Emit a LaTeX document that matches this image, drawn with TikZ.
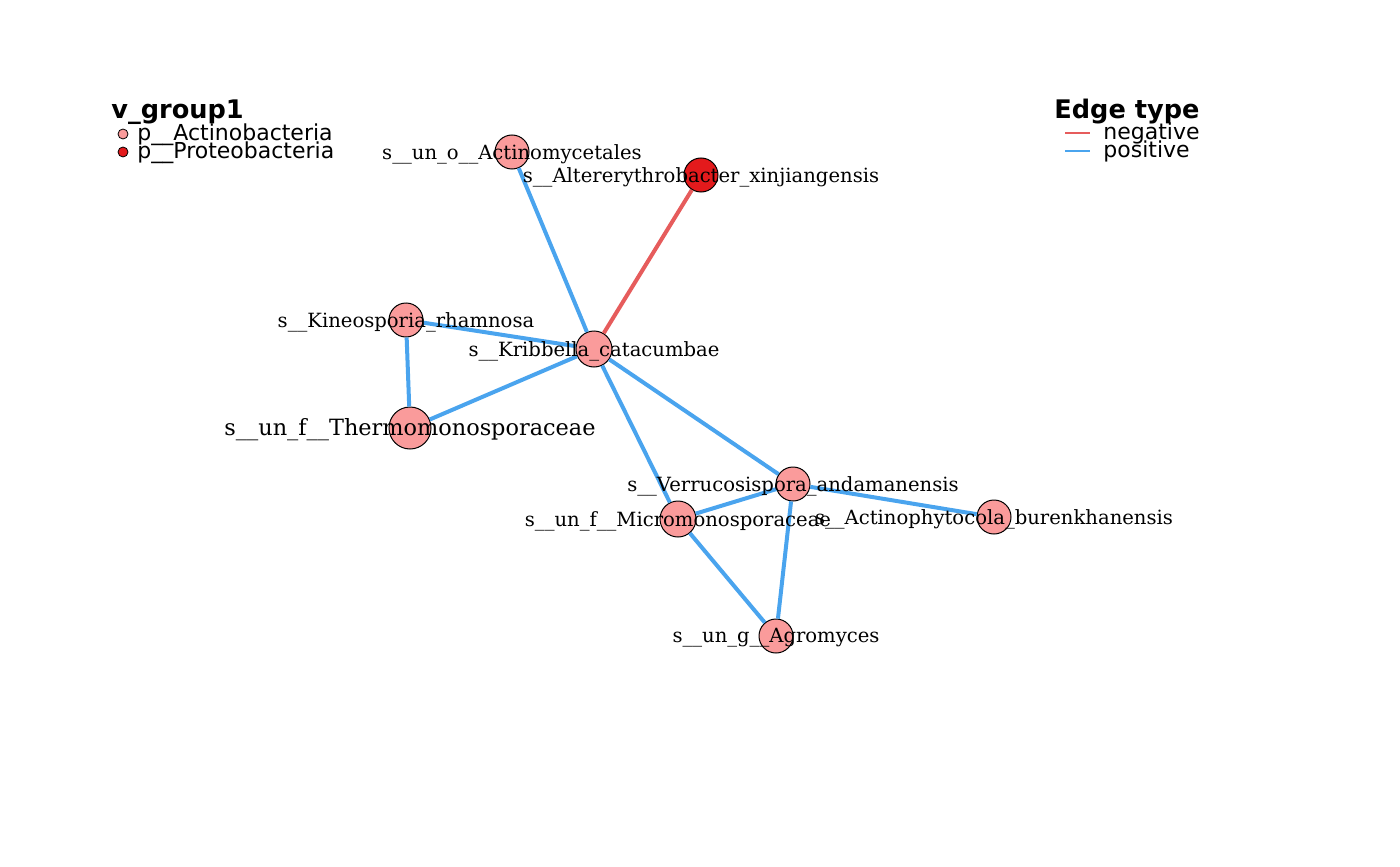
\documentclass[tikz,border=0pt]{standalone}
\usepackage{fontspec}
\setmainfont{DejaVu Serif}
\newfontfamily\legendfont{DejaVu Sans}
\definecolor{posblue}{RGB}{74,164,238}
\definecolor{negred}{RGB}{230,92,92}
\definecolor{actino}{RGB}{250,155,155}
\definecolor{proteo}{RGB}{227,26,28}
\tikzstyle{vertex} = [circle, draw=black, line width=0.5pt, inner sep=0pt, minimum size=17pt, fill=actino]
\tikzstyle{vlabel} = [inner sep=0pt, text=black, yshift=-1pt, font=\fontsize{9.8}{9.8}\selectfont]
\tikzstyle{posedge} = [line width=2pt, draw=posblue]
\tikzstyle{negedge} = [line width=2pt, draw=negred]
\tikzstyle{legtitle} = [anchor=base west, inner sep=0pt, font=\legendfont\bfseries\fontsize{12.8}{12.8}\selectfont]
\tikzstyle{legitem} = [anchor=base west, inner sep=0pt, font=\legendfont\fontsize{11}{11}\selectfont]
\tikzstyle{legdot} = [circle, draw=black, line width=0.4pt, inner sep=0pt, minimum size=5pt]

\begin{document}
\begin{tikzpicture}[x=0.5pt, y=-0.5pt]

\useasboundingbox (0,0) rectangle (1400,866);

% vertices
\node (actinomyc) [vertex] at (512,152) {};
\node (alterery) [vertex, fill=proteo] at (701,175) {};
\node (kineo) [vertex] at (406,320) {};
\node (kribbella) [vertex, minimum size=18pt] at (594,349) {};
\node (thermo) [vertex, minimum size=21pt] at (410,428) {};
\node (verruco) [vertex] at (793,484) {};
\node (micromono) [vertex, minimum size=18pt] at (678,519) {};
\node (actinophy) [vertex] at (994,517) {};
\node (agromyces) [vertex] at (776,636) {};

% edges
\draw [posedge] (actinomyc) -- (kribbella);
\draw [negedge] (alterery) -- (kribbella);
\draw [posedge] (kineo) -- (kribbella);
\draw [posedge] (kineo) -- (thermo);
\draw [posedge] (thermo) -- (kribbella);
\draw [posedge] (kribbella) -- (micromono);
\draw [posedge] (kribbella) -- (verruco);
\draw [posedge] (verruco) -- (micromono);
\draw [posedge] (verruco) -- (actinophy);
\draw [posedge] (verruco) -- (agromyces);
\draw [posedge] (micromono) -- (agromyces);

% labels
\node (lactinomyc) [vlabel] at (actinomyc.center) {s\_\_un\_o\_\_Actinomycetales};
\node (lalterery) [vlabel] at (alterery.center) {s\_\_Altererythrobacter\_xinjiangensis};
\node (lkineo) [vlabel] at (kineo.center) {s\_\_Kineosporia\_rhamnosa};
\node (lkribbella) [vlabel] at (kribbella.center) {s\_\_Kribbella\_catacumbae};
\node (lthermo) [vlabel, font=\fontsize{11.2}{11.2}\selectfont] at (thermo.center) {s\_\_un\_f\_\_Thermomonosporaceae};
\node (lverruco) [vlabel] at (verruco.center) {s\_\_Verrucosispora\_andamanensis};
\node (lmicromono) [vlabel] at (micromono.center) {s\_\_un\_f\_\_Micromonosporaceae};
\node (lactinophy) [vlabel] at (actinophy.center) {s\_\_Actinophytocola\_burenkhanensis};
\node (lagromyces) [vlabel] at (agromyces.center) {s\_\_un\_g\_\_Agromyces};

% legend: vertex groups
\node (grouptitle) [legtitle] at (111,119) {v\_group1};
\node (dotactino) [legdot, fill=actino] at (123,134) {};
\node (dotproteo) [legdot, fill=proteo] at (123,152) {};
\node (gactino) [legitem] at (137,141) {p\_\_Actinobacteria};
\node (gproteo) [legitem] at (137,159) {p\_\_Proteobacteria};

% legend: edge type
\node (edgetitle) [legtitle] at (1054,119) {Edge type};
\coordinate (negA) at (1065,133);
\coordinate (negB) at (1090,133);
\coordinate (posA) at (1065,151);
\coordinate (posB) at (1090,151);
\draw [draw=negred, line width=1pt] (negA) -- (negB);
\draw [draw=posblue, line width=1pt] (posA) -- (posB);
\node (eneg) [legitem] at (1103,140) {negative};
\node (epos) [legitem] at (1103,158) {positive};

\end{tikzpicture}
\end{document}
